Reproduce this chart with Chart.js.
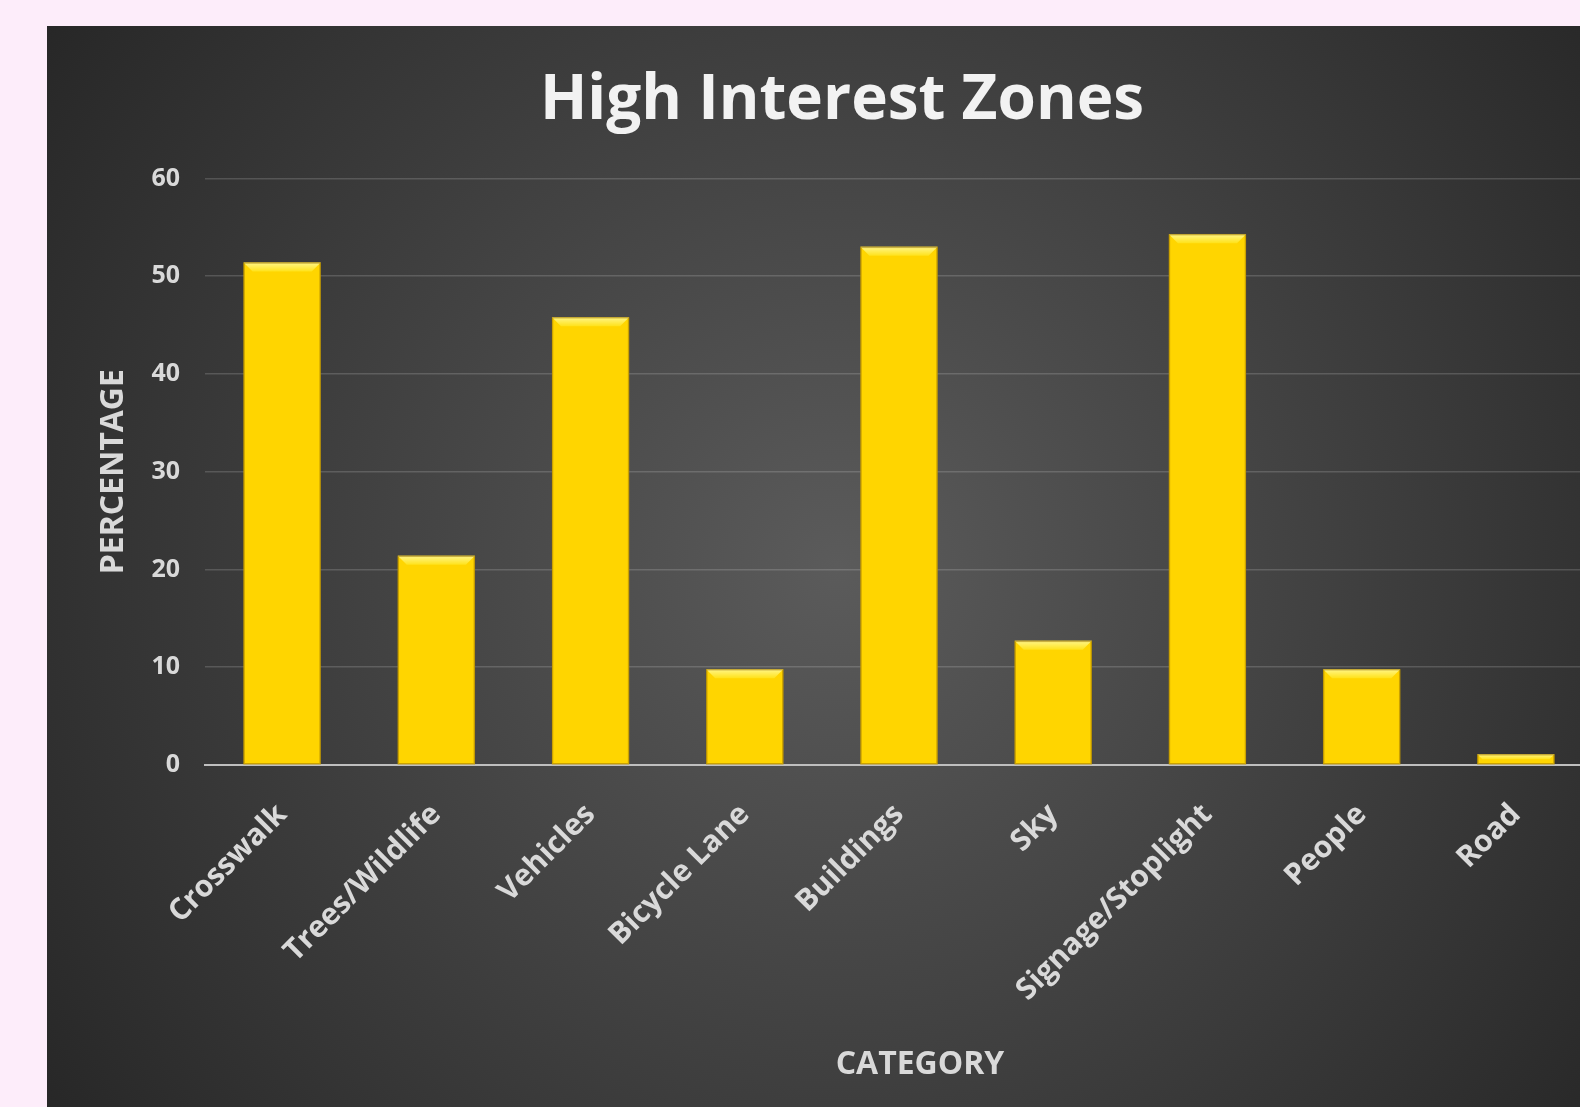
<!DOCTYPE html>
<html>
<head>
<meta charset="utf-8">
<script src="https://cdn.jsdelivr.net/npm/chart.js@4.4.1/dist/chart.umd.min.js"></script>
<style>
  html, body { margin: 0; padding: 0; width: 1580px; height: 1107px; overflow: hidden; background: #fdedfa; }
  #wrap { position: absolute; left: 47px; top: 26px; width: 1582px; height: 1081px; }
</style>
</head>
<body>
<div id="wrap"><canvas id="myChart"></canvas></div>
<script>
const categories = ["Crosswalk", "Trees/Wildlife", "Vehicles", "Bicycle Lane", "Buildings", "Sky", "Signage/Stoplight", "People", "Road"];
const percentages = [51.4, 21.4, 45.8, 9.8, 53.0, 12.7, 54.3, 9.8, 1.1];
const yTicks = [0, 10, 20, 30, 40, 50, 60];
const xTitle = "CATEGORY";

const labelFont = "'Open Sans', sans-serif";

// fondo gris oscuro con degradado radial
const bgPlugin = {
  id: "bg",
  beforeDraw(chart) {
    const { ctx, width, height } = chart;
    const g = ctx.createRadialGradient(width * 0.5, height * 0.5, 0, width * 0.5, height * 0.5, width * 0.62);
    g.addColorStop(0, "#5b5b5b");
    g.addColorStop(1, "#262626");
    ctx.save();
    ctx.fillStyle = g;
    ctx.fillRect(0, 0, width, height);
    ctx.restore();
  }
};

// bisel en la parte de arriba de cada barra
const bevelPlugin = {
  id: "bevel",
  afterDatasetsDraw(chart) {
    const { ctx } = chart;
    chart.getDatasetMeta(0).data.forEach((bar) => {
      const l = bar.x - bar.width / 2, r = bar.x + bar.width / 2;
      const top = bar.y, bottom = bar.base;
      const b = Math.min(9, (bottom - top) / 2);
      ctx.save();
      const g = ctx.createLinearGradient(0, top, 0, top + b);
      g.addColorStop(0, "#fff68a");
      g.addColorStop(1, "#ffe21a");
      ctx.fillStyle = g;
      ctx.beginPath();
      ctx.moveTo(l, top);
      ctx.lineTo(r, top);
      ctx.lineTo(r - b, top + b);
      ctx.lineTo(l + b, top + b);
      ctx.closePath();
      ctx.fill();
      ctx.strokeStyle = "rgba(150,110,0,0.5)";
      ctx.lineWidth = 1.5;
      ctx.strokeRect(l + 0.5, top + 0.5, r - l - 1, bottom - top - 1);
      ctx.restore();
    });
  }
};

// titulo del eje x, un poco corrido a la derecha como en el original
const xTitlePlugin = {
  id: "xTitle",
  afterDraw(chart) {
    const { ctx, chartArea } = chart;
    ctx.save();
    ctx.fillStyle = "#d9d9d9";
    ctx.font = "bold 32px " + labelFont;
    ctx.textAlign = "center";
    ctx.textBaseline = "middle";
    ctx.fillText(xTitle, (chartArea.left + chartArea.right) / 2 + 21, chart.height - 42);
    ctx.restore();
  }
};

const ctx = document.getElementById("myChart");

new Chart(ctx, {
  type: "bar",
  data: {
    labels: categories,
    datasets: [{
      label: "Percentage",
      data: percentages,
      backgroundColor: "#ffd500",
      borderWidth: 0,
      barPercentage: 0.5,
      categoryPercentage: 1.0
    }]
  },
  options: {
    responsive: true,
    maintainAspectRatio: false,
    animation: false,
    layout: { padding: { left: 44, right: 36, top: 20, bottom: 26 } },
    plugins: {
      legend: { display: false },
      tooltip: { enabled: false },
      title: {
        display: true,
        text: "High Interest Zones",
        color: "#f2f2f2",
        font: { family: labelFont, size: 62, weight: "bold" },
        padding: { top: 18, bottom: 40 }
      }
    },
    scales: {
      x: {
        grid: { display: false, drawTicks: false },
        border: { display: true, color: "#bfbfbf", width: 2 },
        ticks: {
          color: "#d9d9d9",
          font: { family: labelFont, size: 30, weight: "bold" },
          minRotation: 45,
          maxRotation: 45,
          autoSkip: false,
          padding: 32
        },
        afterFit(scale) { scale.height = 316; }
      },
      y: {
        min: 0,
        max: 60,
        afterBuildTicks(scale) { scale.ticks = yTicks.map((v) => ({ value: v })); },
        grid: {
          color: (c) => (c.tick && c.tick.value === 0 ? "rgba(0,0,0,0)" : "rgba(255,255,255,0.16)"),
          lineWidth: 1.5,
          drawTicks: false
        },
        border: { display: false },
        ticks: {
          color: "#d9d9d9",
          font: { family: labelFont, size: 25, weight: "bold" },
          padding: 25
        },
        title: {
          display: true,
          text: "PERCENTAGE",
          color: "#d9d9d9",
          font: { family: labelFont, size: 32, weight: "bold" },
          padding: { top: 4, bottom: 4 }
        },
        afterFit(scale) { scale.width = 114; }
      }
    }
  },
  plugins: [bgPlugin, bevelPlugin, xTitlePlugin]
});
</script>
</body>
</html>
